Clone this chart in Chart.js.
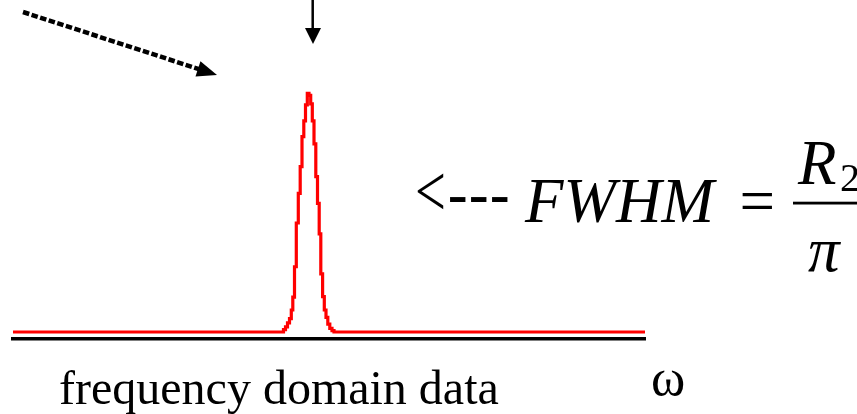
<!DOCTYPE html>
<html>
<head>
<meta charset="utf-8">
<title>frequency domain data</title>
<script src="https://cdn.jsdelivr.net/npm/chart.js@4"></script>
<style>
    html, body { margin: 0; padding: 0; background: #fff; }
    #chart { display: block; }
</style>
</head>
<body>
<canvas id="chart" width="857" height="414"></canvas>
<script>
// spectrum (frequency channel, intensity in % of peak)
const freq = [0, 270.5, 272.5, 274.5, 276.5, 278.3, 279.8, 281.5, 283.3, 285.3, 287.2, 289, 290.8, 292.5, 294.3, 296,
    297.7, 299.3, 301, 302.8, 304.5, 306.2, 307.8, 309.6, 311.3, 313, 314.8, 316.8, 319, 321, 632];
const intensity = [0, 1.0, 2.1, 3.8, 5.6, 9.2, 14.6, 27.3, 45.6, 58.0, 69.2, 81.7, 88.3, 95.0, 99.8, 99.0,
    95.4, 88.3, 78.7, 65.0, 53.8, 41.0, 24.3, 14.8, 9.2, 6.1, 3.3, 1.5, 0.6, 0, 0];

const xLabel = 'frequency domain data';
const omegaLabel = 'ω';
const formulaLeft = 'FWHM';
const formulaNum = 'R';
const formulaSub = '2';
const formulaDen = 'π';

const points = freq.map((f, i) => ({ x: f, y: intensity[i] }));

// arrows and the FWHM formula, drawn over the chart
const notes = {
    id: 'notes',
    afterDraw(chart) {
        const ctx = chart.ctx;
        ctx.save();
        ctx.fillStyle = '#000';
        ctx.strokeStyle = '#000';

        // dashed arrow, top left
        const x0 = 23, y0 = 12, x1 = 217, y1 = 75;
        const len = Math.hypot(x1 - x0, y1 - y0);
        const ux = (x1 - x0) / len, uy = (y1 - y0) / len;
        ctx.lineWidth = 4.5;
        ctx.setLineDash([6.5, 2.5]);
        ctx.beginPath();
        ctx.moveTo(x0, y0);
        ctx.lineTo(x1 - ux * 14, y1 - uy * 14);
        ctx.stroke();
        ctx.setLineDash([]);
        ctx.beginPath();
        ctx.moveTo(x1, y1);
        ctx.lineTo(x1 - ux * 20 - uy * 8, y1 - uy * 20 + ux * 8);
        ctx.lineTo(x1 - ux * 20 + uy * 8, y1 - uy * 20 - ux * 8);
        ctx.closePath();
        ctx.fill();

        // solid arrow down onto the peak
        ctx.lineWidth = 2.5;
        ctx.beginPath();
        ctx.moveTo(312.7, 0);
        ctx.lineTo(312.7, 30);
        ctx.stroke();
        ctx.beginPath();
        ctx.moveTo(305, 28);
        ctx.lineTo(321, 28);
        ctx.lineTo(313, 44);
        ctx.closePath();
        ctx.fill();

        // "<---"
        ctx.save();
        ctx.translate(415, 216);
        ctx.scale(0.74, 1);
        ctx.font = '74px "Liberation Serif"';
        ctx.textBaseline = 'alphabetic';
        ctx.fillText('<', 0, 0);
        ctx.restore();
        ctx.font = '63px "Liberation Sans"';
        ctx.fillText('---', 447.2, 216);

        // FWHM = R2 / pi
        ctx.font = 'italic 63px "Liberation Serif"';
        ctx.fillText(formulaLeft, 525, 222);
        ctx.font = '63px "Liberation Serif"';
        ctx.fillText('=', 739.5, 222);
        ctx.font = 'italic 63px "Liberation Serif"';
        ctx.fillText(formulaNum, 798, 184);
        ctx.fillText(formulaDen, 808, 271);
        ctx.font = '40px "Liberation Serif"';
        ctx.fillText(formulaSub, 840, 191);
        ctx.fillRect(793, 201.7, 64, 2.8);

        // axis captions
        ctx.font = '48px "Liberation Serif"';
        ctx.fillText(xLabel, 59, 404);
        ctx.font = '52px "Liberation Serif"';
        ctx.fillText(omegaLabel, 651, 395);
        ctx.restore();
    }
};

new Chart(document.getElementById('chart'), {
    type: 'line',
    data: {
        datasets: [{
            data: points,
            borderColor: '#ff0000',
            borderWidth: 3.2,
            stepped: 'before',
            pointRadius: 0,
            fill: false
        }]
    },
    options: {
        responsive: false,
        animation: false,
        devicePixelRatio: 1,
        layout: {
            padding: { left: 13, right: 212, top: 20, bottom: 75 }
        },
        plugins: {
            legend: { display: false },
            tooltip: { enabled: false }
        },
        scales: {
            x: {
                type: 'linear',
                min: 0,
                max: 632,
                grid: { display: false, drawTicks: false },
                ticks: { display: false },
                border: { display: true, color: '#000', width: 3.5 }
            },
            y: {
                display: false,
                min: -2.93,
                max: 130.5
            }
        }
    },
    plugins: [notes]
});
</script>
</body>
</html>
